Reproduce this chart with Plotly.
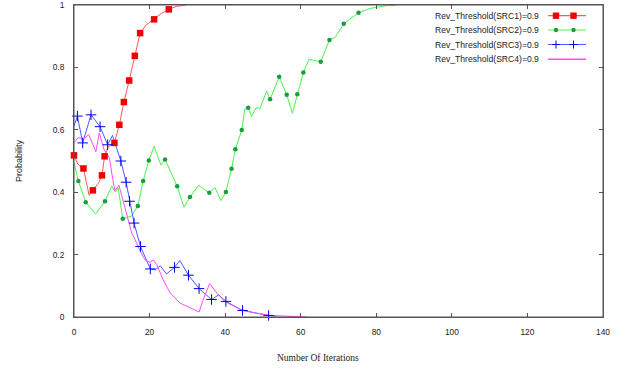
import plotly.graph_objects as go

# ---------------- data ----------------
src1_x = [0, 1, 2.5, 4, 5, 6.5, 7.4, 8.1, 9, 9.8, 10.7, 12, 13.2, 14.6, 16.1, 17.5, 19, 21.2, 23, 25.1, 27, 29.6]
src1_y = [0.518, 0.49, 0.476, 0.39, 0.406, 0.43, 0.454, 0.515, 0.545, 0.55, 0.558, 0.616, 0.689, 0.758,
          0.837, 0.91, 0.935, 0.954, 0.972, 0.986, 0.995, 1.0]
src1_marks = [0, 2, 4, 6, 7, 10, 11, 12, 13, 14, 15, 17, 19]

src2_x = [0, 1.15, 3.1, 5.7, 8.2, 10.0, 10.9, 11.7, 12.9, 15.2, 16.9, 18.3, 19.8, 21.2, 23.0, 24.1, 27.3,
          29.1, 30.7, 33.0, 35.8, 37.3, 38.9, 40.2, 41.7, 42.7, 44.4, 45.2, 46.1, 47.0, 48.2, 49.2, 51.0,
          51.9, 54.3, 56.3, 57.8, 59.1, 60.7, 62.2, 65.3, 67.6, 69.1, 71.4, 75.3, 78.3, 82.7, 85.5]
src2_y = [0.495, 0.436, 0.368, 0.330, 0.371, 0.420, 0.400, 0.414, 0.315, 0.323, 0.356, 0.436, 0.502, 0.547,
          0.487, 0.505, 0.419, 0.352, 0.385, 0.422, 0.398, 0.415, 0.373, 0.401, 0.475, 0.538, 0.599, 0.666,
          0.671, 0.642, 0.671, 0.668, 0.724, 0.698, 0.770, 0.712, 0.653, 0.714, 0.784, 0.826, 0.818, 0.888,
          0.896, 0.940, 0.975, 0.989, 0.998, 1.0]
src2_marks = [1, 2, 4, 8, 10, 11, 12, 15, 16, 18, 20, 23, 24, 25, 26, 28, 33, 34, 35, 37, 38, 40, 41, 43, 44]

src3_x = [0, 0.9, 2.3, 4.5, 6.9, 8.9, 10.2, 12.4, 13.8, 14.7, 15.9, 17.6, 20.2, 21.5, 22.8, 24.5, 26.6,
          28.0, 30.3, 33.1, 36.4, 38.3, 40.2, 44.6, 51.5, 53.6]
src3_y = [0.612, 0.644, 0.558, 0.648, 0.610, 0.552, 0.582, 0.500, 0.432, 0.371, 0.301, 0.226, 0.154, 0.151,
          0.164, 0.138, 0.159, 0.181, 0.134, 0.091, 0.056, 0.071, 0.050, 0.021, 0.005, 0.003]
src3_marks = [1, 2, 3, 4, 5, 7, 8, 9, 10, 11, 12, 16, 18, 19, 20, 22, 23, 24]

src4_x = [0, 1.1, 2.5, 3.9, 5.8, 6.7, 8.0, 9.4, 10.0, 10.8, 11.9, 13.0, 14.4, 15.3, 16.1, 17.5, 18.8, 20.1,
          21.0, 21.9, 23.6, 25.4, 28.0, 30.5, 33.1, 34.2, 35.9, 38.0, 40.0, 43.9, 48.3, 52.0, 56.0, 61.6]
src4_y = [0.558, 0.575, 0.57, 0.585, 0.530, 0.590, 0.535, 0.510, 0.460, 0.405, 0.422, 0.372, 0.312, 0.268,
          0.250, 0.212, 0.183, 0.175, 0.183, 0.168, 0.119, 0.078, 0.045, 0.030, 0.016, 0.056, 0.107, 0.074,
          0.049, 0.025, 0.012, 0.005, 0.002, 0.0]

names = ["Rev_Threshold(SRC1)=0.9", "Rev_Threshold(SRC2)=0.9",
         "Rev_Threshold(SRC3)=0.9", "Rev_Threshold(SRC4)=0.9"]

x_ticks = [0, 20, 40, 60, 80, 100, 120, 140]
y_ticks = [0, 0.2, 0.4, 0.6, 0.8, 1]
y_tick_labels = ["0", "0.2", "0.4", "0.6", "0.8", "1"]

# ---------------- styles ----------------
RED_L, RED_M = "#ff5a5a", "#f00000"
GRN_L, GRN_M = "#4ef04e", "#1c9c3c"
BLU_L, BLU_M = "#4a5aff", "#0000f0"
MAG_L = "#ff4cff"
AX = "#555555"
SANS = "Liberation Sans, Arial, sans-serif"
SERIF = "Liberation Serif, Times New Roman, serif"

fig = go.Figure()

def pick(arr, idx):
    return [arr[i] for i in idx]

# lines
fig.add_trace(go.Scatter(x=src1_x, y=src1_y, mode="lines", line=dict(color=RED_L, width=1),
                         cliponaxis=False, showlegend=False))
fig.add_trace(go.Scatter(x=src2_x, y=src2_y, mode="lines", line=dict(color=GRN_L, width=1),
                         cliponaxis=False, showlegend=False))
fig.add_trace(go.Scatter(x=src3_x, y=src3_y, mode="lines", line=dict(color=BLU_L, width=1), showlegend=False))
fig.add_trace(go.Scatter(x=src4_x, y=src4_y, mode="lines", line=dict(color=MAG_L, width=1), showlegend=False))
# markers
fig.add_trace(go.Scatter(x=pick(src1_x, src1_marks), y=pick(src1_y, src1_marks), mode="markers",
                         marker=dict(symbol="square", size=6.5, color=RED_M, line=dict(width=0)),
                         cliponaxis=False, showlegend=False))
fig.add_trace(go.Scatter(x=pick(src2_x, src2_marks), y=pick(src2_y, src2_marks), mode="markers",
                         marker=dict(symbol="circle", size=4.5, color=GRN_M, line=dict(width=0)),
                         cliponaxis=False, showlegend=False))
fig.add_trace(go.Scatter(x=pick(src3_x, src3_marks), y=pick(src3_y, src3_marks), mode="markers",
                         marker=dict(symbol="cross-thin", size=7.5, color=BLU_M, line=dict(width=1, color=BLU_M)),
                         cliponaxis=False, showlegend=False))

# ---------------- layout ----------------
L, R, T, B = 74, 31, 5, 55
W, H = 634, 372
PW, PH = W - L - R, H - T - B

def px_x(p):
    return (p - L) / PW

def px_y(p):
    return (H - B - p) / PH

shapes = [dict(type="rect", xref="paper", yref="paper", x0=0, x1=1, y0=0, y1=1,
               line=dict(color=AX, width=1), layer="above")]
annotations = []
leg_rows = [15.7, 30.0, 44.5, 59.3]
line_colors = [RED_L, GRN_L, BLU_L, MAG_L]
for i, (nm, yy) in enumerate(zip(names, leg_rows)):
    annotations.append(dict(text=nm, x=px_x(541), y=px_y(yy), xref="paper", yref="paper",
                            xanchor="right", yanchor="middle", showarrow=False,
                            font=dict(family=SANS, size=8.6, color="#222222")))
    shapes.append(dict(type="line", xref="paper", yref="paper", x0=px_x(548), x1=px_x(586),
                       y0=px_y(yy), y1=px_y(yy), line=dict(color=line_colors[i], width=1.2 if i < 3 else 1.6)))
    for mx in (556, 573.5):
        if i == 0:
            shapes.append(dict(type="rect", xref="paper", yref="paper", x0=px_x(mx - 3.2), x1=px_x(mx + 3.2),
                               y0=px_y(yy + 3.2), y1=px_y(yy - 3.2), fillcolor=RED_M, line=dict(width=0)))
        elif i == 1:
            shapes.append(dict(type="circle", xref="paper", yref="paper", x0=px_x(mx - 2.2), x1=px_x(mx + 2.2),
                               y0=px_y(yy + 2.2), y1=px_y(yy - 2.2), fillcolor=GRN_M, line=dict(width=0)))
        elif i == 2:
            shapes.append(dict(type="line", xref="paper", yref="paper", x0=px_x(mx - 4), x1=px_x(mx + 4),
                               y0=px_y(yy), y1=px_y(yy), line=dict(color=BLU_M, width=1)))
            shapes.append(dict(type="line", xref="paper", yref="paper", x0=px_x(mx), x1=px_x(mx),
                               y0=px_y(yy + 4), y1=px_y(yy - 4), line=dict(color=BLU_M, width=1)))

annotations.append(dict(text="Number Of Iterations", x=px_x(318), y=px_y(358), xref="paper", yref="paper",
                        xanchor="center", yanchor="middle", showarrow=False,
                        font=dict(family=SERIF, size=9.5, color="#222222")))
annotations.append(dict(text="Probability", x=px_x(19), y=px_y(161), xref="paper", yref="paper",
                        xanchor="center", yanchor="middle", showarrow=False, textangle=-90,
                        font=dict(family=SANS, size=9, color="#222222")))

fig.update_layout(
    template="none",
    width=W, height=H,
    margin=dict(l=L, r=R, t=T, b=B, pad=0, autoexpand=False),
    paper_bgcolor="white", plot_bgcolor="white",
    showlegend=False,
    shapes=shapes, annotations=annotations,
    xaxis=dict(range=[0, 140], tickvals=x_ticks, ticks="inside", ticklen=4, tickcolor=AX,
               showline=True, linecolor=AX, linewidth=1, mirror="ticks", showgrid=False, zeroline=False,
               tickfont=dict(family=SANS, size=8.4, color="#222222"), ticklabelstandoff=7,
               ticklabeloverflow="allow", automargin=False),
    yaxis=dict(range=[0, 1], tickvals=y_ticks, ticktext=y_tick_labels, ticks="inside", ticklen=4, tickcolor=AX,
               showline=True, linecolor=AX, linewidth=1, mirror="ticks", showgrid=False, zeroline=False,
               tickfont=dict(family=SANS, size=8.4, color="#222222"), ticklabelstandoff=7,
               ticklabeloverflow="allow", automargin=False),
)

fig.write_html("out.html", config={"displayModeBar": False},
               post_script="document.body.style.margin='0';document.body.style.overflow='hidden';")
